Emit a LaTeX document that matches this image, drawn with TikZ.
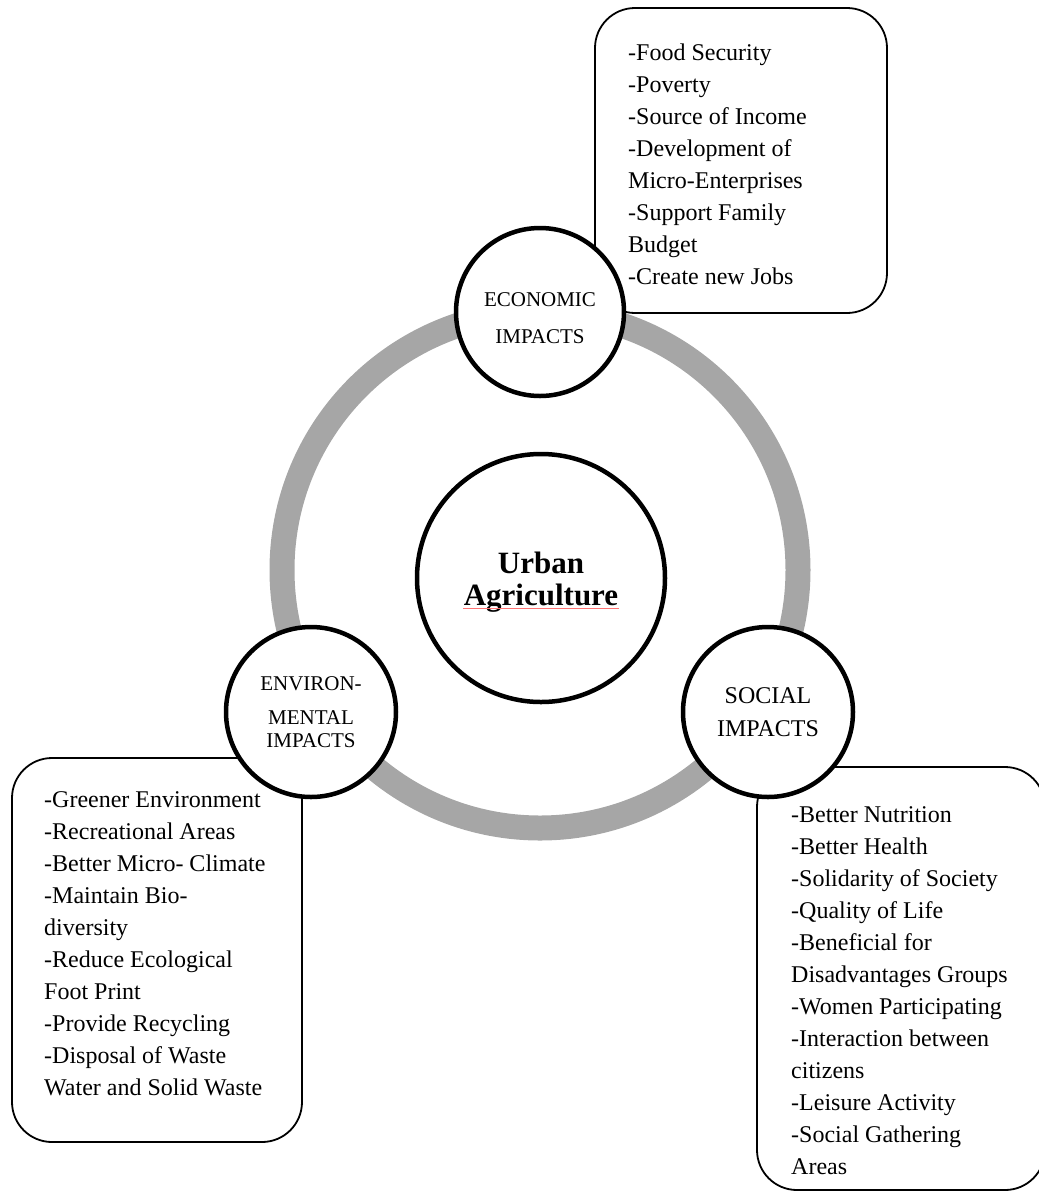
\documentclass[tikz,border=0pt]{standalone}
\usepackage{fontspec}
\setmainfont{Liberation Serif}
\definecolor{ringgray}{RGB}{166,166,166}
\begin{document}
\begin{tikzpicture}[x=1pt,y=-1pt,
  ringstyle/.style={circle, draw=ringgray, line width=25pt, inner sep=0pt},
  infobox/.style={rectangle, draw=black, line width=1.8pt, rounded corners=40pt, fill=white, inner sep=0pt},
  impact/.style={circle, draw=black, line width=4.5pt, fill=white, inner sep=0pt},
  listtext/.style={anchor=north west, inner sep=0pt, align=left, font=\fontsize{24}{32}\selectfont},
  circlbl/.style={inner sep=0pt, align=center},
  squiggle/.style={draw=red!55, line width=0.6pt}]
\useasboundingbox (0,0) rectangle (1039,1195);
\clip (0,0) rectangle (1039,1195);
% gray ring
\node[ringstyle, minimum size=516pt] (ring) at (540,570) {};
% boxes
\node[infobox, minimum width=292pt, minimum height=305pt] (econbox) at (741,160.5) {};
\node[infobox, minimum width=290pt, minimum height=384pt] (envbox) at (157,950) {};
\node[infobox, minimum width=288pt, minimum height=423pt] (socbox) at (901,978.5) {};
% list texts
\node[listtext] (econlist) at (628,43.6) {-Food Security\\-Poverty\\-Source of Income\\-Development of\\Micro-Enterprises\\-Support Family\\Budget\\-Create new Jobs};
\node[listtext] (envlist) at (44,791.6) {-Greener Environment\\-Recreational Areas\\-Better Micro- Climate\\-Maintain Bio-\\diversity\\-Reduce Ecological\\Foot Print\\-Provide Recycling\\-Disposal of Waste\\Water and Solid Waste};
\node[listtext] (soclist) at (791,806.6) {-Better Nutrition\\-Better Health\\-Solidarity of Society\\-Quality of Life\\-Beneficial for\\Disadvantages Groups\\-Women Participating\\-Interaction between\\citizens\\-Leisure Activity\\-Social Gathering\\Areas};
% circles
\node[impact, minimum size=248pt] (ua) at (541,578) {};
\node[impact, minimum size=168pt] (econ) at (540,312) {};
\node[impact, minimum size=170pt] (env) at (311,712) {};
\node[impact, minimum size=170pt] (social) at (768,712) {};
% circle labels
\node[circlbl, font=\bfseries\fontsize{31}{32}\selectfont] (ualbl) at ([yshift=-4pt]ua.center) {Urban\\Agriculture};
\draw[squiggle] ([xshift=-78pt,yshift=-30pt]ua.center) -- ([xshift=78pt,yshift=-30pt]ua.center);
\node[circlbl, font=\fontsize{21}{37}\selectfont] (econlbl) at ([yshift=-6.5pt]econ.center) {ECONOMIC\\IMPACTS};
\node[circlbl, font=\fontsize{21}{23}\selectfont] (envlbl) at (env.center) {ENVIRON-\\[11pt]MENTAL\\IMPACTS};
\node[circlbl, font=\fontsize{24}{33}\selectfont] (soclbl) at (social.center) {SOCIAL\\IMPACTS};
\end{tikzpicture}
\end{document}
